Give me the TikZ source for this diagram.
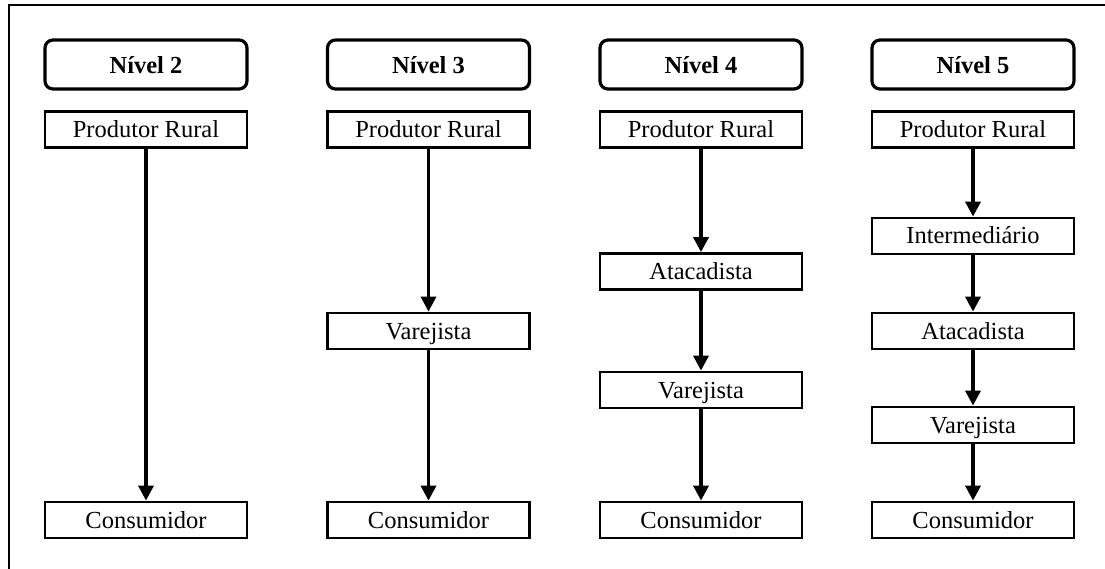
\documentclass[tikz,border=0pt]{standalone}
\usepackage{fontspec}
\setmainfont{Liberation Serif}
\usetikzlibrary{arrows.meta, positioning}

\begin{document}
\begin{tikzpicture}[
        x=1pt, y=-1pt,
        every node/.style={font=\fontsize{24.5}{28}\selectfont},
        nivel/.style={rectangle,draw,rounded corners=8pt,line width=3.2pt,
          minimum width=202pt,minimum height=49pt,inner sep=0pt,
          text height=21pt,text depth=3pt,font=\fontsize{24.5}{28}\selectfont\bfseries},
        elo/.style={rectangle,draw,line width=2.8pt,minimum width=202pt,
          minimum height=36pt,inner sep=0pt,text height=19pt,text depth=3pt},
        flow/.style={line width=3.4pt,-{Triangle[length=15pt,width=15pt]}}
      ]
      \useasboundingbox (0,0) rectangle (1105,569);
      % frame
      \draw[line width=2.5pt] (9,569) |- (1105,5);

      % Nivel 2
      \node[nivel] (h2) at (146,64.5) {Nível 2};
      \node[elo] (p2) at (146,129.5) {Produtor Rural};
      \node[elo] (c2) at (146,520) {Consumidor};
      \draw[flow] (p2) -- (c2);

      % Nivel 3
      \node[nivel] (h3) at (428.5,64.5) {Nível 3};
      \node[elo] (p3) at (428.5,129.5) {Produtor Rural};
      \node[elo] (v3) at (428.5,331) {Varejista};
      \node[elo] (c3) at (428.5,520) {Consumidor};
      \draw[flow] (p3) -- (v3);
      \draw[flow] (v3) -- (c3);

      % Nivel 4
      \node[nivel] (h4) at (701,64.5) {Nível 4};
      \node[elo] (p4) at (701,129.5) {Produtor Rural};
      \node[elo] (a4) at (701,271.5) {Atacadista};
      \node[elo] (v4) at (701,390) {Varejista};
      \node[elo] (c4) at (701,520) {Consumidor};
      \draw[flow] (p4) -- (a4);
      \draw[flow] (a4) -- (v4);
      \draw[flow] (v4) -- (c4);

      % Nivel 5
      \node[nivel] (h5) at (973,64.5) {Nível 5};
      \node[elo] (p5) at (973,129.5) {Produtor Rural};
      \node[elo] (i5) at (973,236) {Intermediário};
      \node[elo] (a5) at (973,331) {Atacadista};
      \node[elo] (v5) at (973,425) {Varejista};
      \node[elo] (c5) at (973,520) {Consumidor};
      \draw[flow] (p5) -- (i5);
      \draw[flow] (i5) -- (a5);
      \draw[flow] (a5) -- (v5);
      \draw[flow] (v5) -- (c5);
    \end{tikzpicture}
\end{document}
